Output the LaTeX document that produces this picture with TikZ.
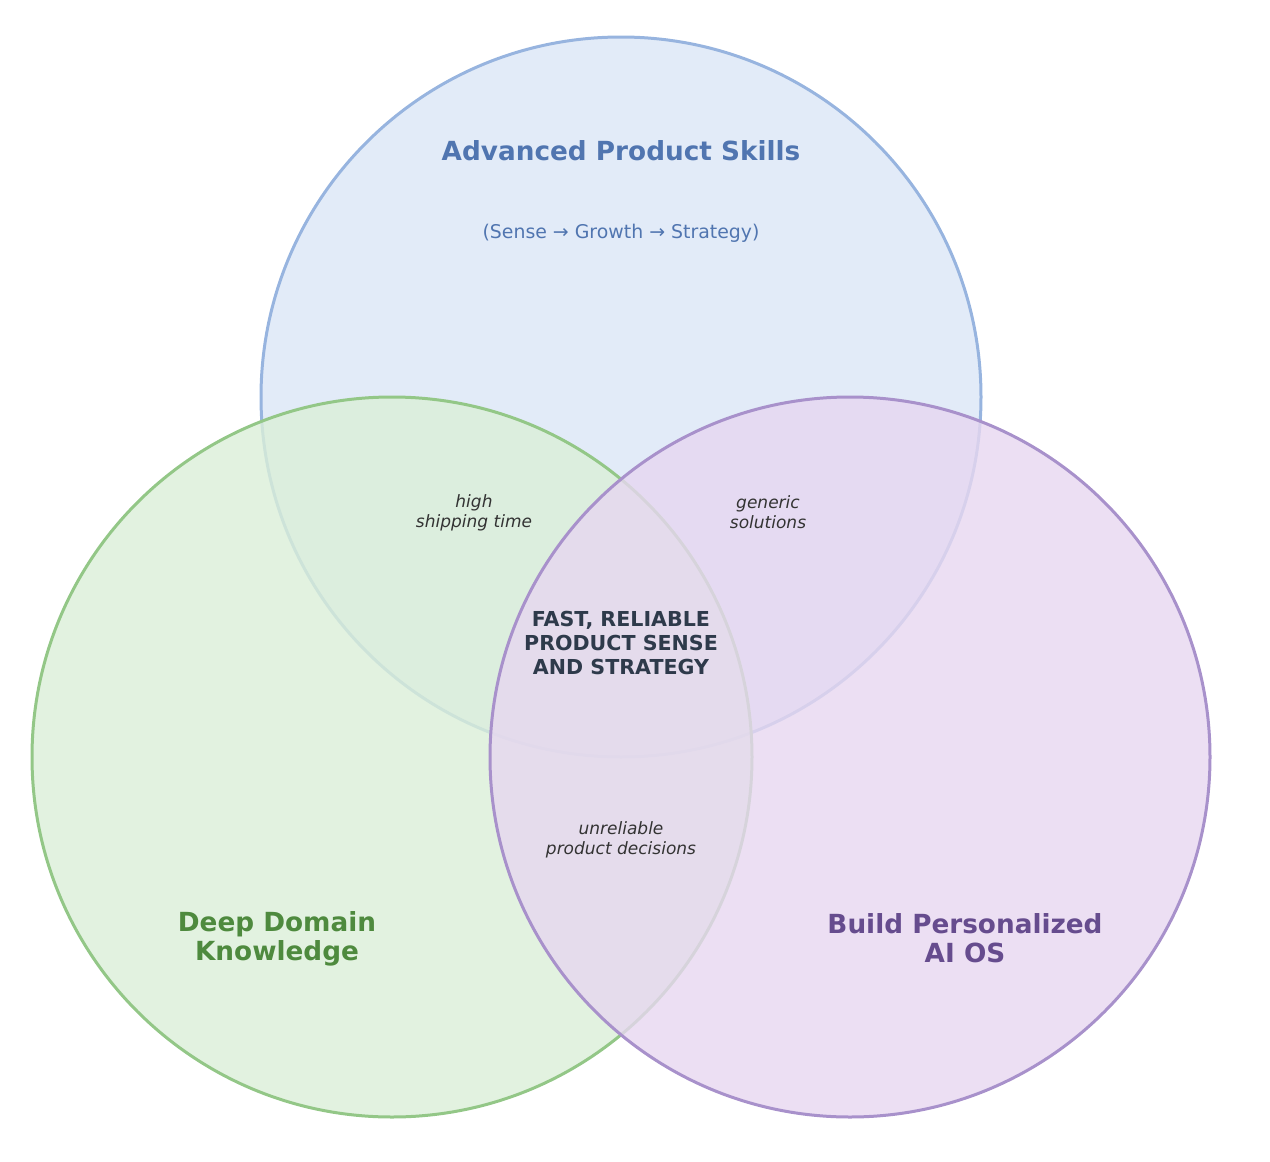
\documentclass[tikz,border=0pt]{standalone}
\usepackage{fontspec}
\setmainfont{DejaVu Sans}
\definecolor{bluefill}{RGB}{219,230,246}
\definecolor{greenfill}{RGB}{219,239,216}
\definecolor{purplefill}{RGB}{231,215,240}
\definecolor{blueedge}{HTML}{97B4DF}
\definecolor{greenedge}{HTML}{93C787}
\definecolor{purpleedge}{HTML}{A891CB}
\definecolor{bluetext}{HTML}{5075B0}
\definecolor{greentext}{HTML}{4E8A3E}
\definecolor{purpletext}{HTML}{664C8E}
\definecolor{darktext}{HTML}{2E3A4B}
\definecolor{greytext}{HTML}{333333}
\tikzset{
  setcircle/.style={circle, minimum size=720pt, inner sep=0pt, line width=3pt, fill opacity=0.8, draw opacity=1},
  sublabel/.style={align=center, text=greytext, font=\fontsize{17}{19.5}\selectfont\itshape},
  setlabel/.style={align=center, font=\fontsize{26.3}{29}\selectfont\bfseries}
}
\begin{document}
\begin{tikzpicture}[x=1pt,y=-1pt]
\useasboundingbox (0,0) rectangle (1270,1162);
\node[setcircle, draw=blueedge, fill=bluefill] (top) at (621,397) {};
\node[setcircle, draw=greenedge, fill=greenfill] (left) at (392,757) {};
\node[setcircle, draw=purpleedge, fill=purplefill] (right) at (850,757) {};
\node[setlabel, text=bluetext] (titleA) at (621,151) {Advanced Product Skills};
\node[align=center, text=bluetext, font=\fontsize{18.9}{22}\selectfont] (subA) at (621,233) {(Sense → Growth → Strategy)};
\node[sublabel] (ab) at (474,513) {high\\shipping time};
\node[sublabel] (ac) at (768,512) {generic\\solutions};
\node[sublabel] (bc) at (621,840) {unreliable\\product decisions};
\node[align=center, text=darktext, font=\fontsize{20.6}{24}\selectfont\bfseries] (core) at (621,643) {FAST, RELIABLE\\PRODUCT SENSE\\AND STRATEGY};
\node[setlabel, text=greentext] (titleB) at (277,939) {Deep Domain\\Knowledge};
\node[setlabel, text=purpletext] (titleC) at (965,938) {Build Personalized\\AI OS};
\end{tikzpicture}
\end{document}
